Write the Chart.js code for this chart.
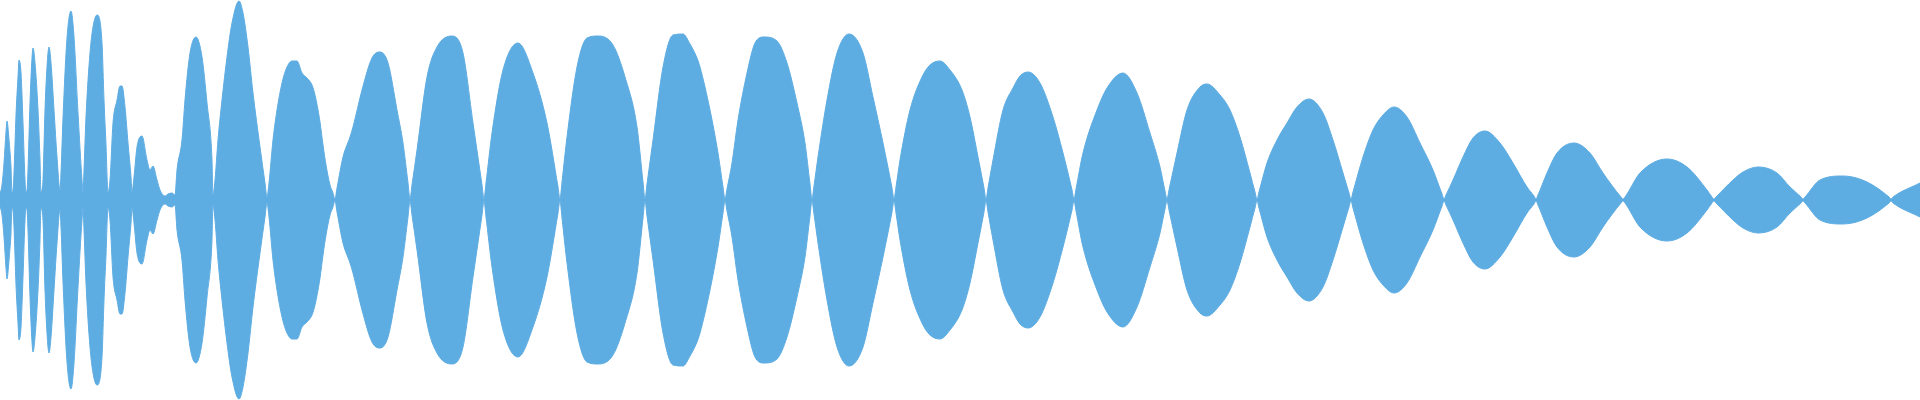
<!DOCTYPE html>
<html>
<head>
<meta charset="utf-8">
<script src="https://cdn.jsdelivr.net/npm/chart.js@4/dist/chart.umd.min.js"></script>
<style>
  html, body { margin: 0; padding: 0; background: #ffffff; }
  #wrap { width: 1920px; height: 400px; position: relative; }
</style>
</head>
<body>
<div id="wrap"><canvas id="c"></canvas></div>
<script>
// Sample positions (time axis) and envelope amplitudes
const samplePositions = [
  0,2,4,6,7,9,11,12,13,14,16,18,19,21,23,25,26,27,28,30,32,33,35,38,40,41,
  42,43,45,47,49,51,54,57,60,61,63,67,71,74,78,82,83,84,86,90,93,97,102,104,106,108,
  110,113,117,120,122,125,128,131,132,134,137,142,147,150,153,157,160,165,168,172,175,
  177,182,185,190,196,202,207,212,213,215,218,222,227,232,239,243,248,253,260,265,267,
  269,273,277,282,287,292,297,302,307,312,315,318,320,323,326,330,333,335,337,
  343,350,353,362,372,380,388,397,403,408,410,412,
  417,427,437,452,463,473,482,484,486,
  492,503,518,533,547,558,560,562,
  567,577,587,598,613,625,637,643,645,647,
  653,663,673,683,690,697,700,710,718,723,725,727,
  732,738,747,755,764,777,787,797,805,810,812,814,
  818,827,837,849,863,873,883,892,894,896,
  900,910,922,930,940,950,962,970,978,984,986,988,
  993,1003,1013,1020,1028,1040,1053,1063,1072,1074,1076,
  1083,1097,1107,1123,1137,1150,1160,1165,1167,1169,
  1177,1187,1200,1207,1220,1230,1240,1250,1255,1257,1259,
  1267,1277,1287,1297,1309,1323,1333,1343,1349,1351,1353,
  1363,1373,1383,1394,1407,1420,1433,1442,1444,1446,
  1453,1463,1473,1485,1500,1513,1527,1534,1536,1538,
  1547,1557,1574,1590,1603,1621,1623,1625,
  1640,1667,1687,1707,1712,1714,1716,
  1733,1743,1758,1777,1790,1801,1803,1805,
  1820,1843,1867,1889,1891,1893,1920
];
const amplitudes = [
  6,15,37,68,79,60,33,8,10,27,85,123,140,127,77,20,8,10,30,97,142,152,137,90,40,8,
  10,20,90,133,153,137,90,43,10,27,82,162,189,163,87,20,8,30,83,147,173,185,157,100,55,8,
  20,77,100,114,114,93,57,23,8,23,53,64,40,30,34,20,10,4,6,7,5,
  30,60,100,147,163,143,97,40,5,20,60,100,143,177,199,187,153,107,53,17,3,
  17,60,90,117,133,139,139,127,122,115,105,90,78,55,35,15,7,1,12,
  43,63,73,110,142,148,137,90,57,17,1,15,
  50,123,153,164,147,77,15,1,17,
  67,130,157,127,77,13,1,18,
  63,133,162,164,155,123,73,18,1,16,
  60,133,165,166,156,142,133,90,47,13,1,11,
  37,80,127,157,163,159,137,97,57,16,1,14,
  43,100,147,166,147,103,57,12,1,13,
  40,90,123,135,139,130,110,83,43,12,1,12,
  40,90,112,124,128,117,83,47,10,1,11,
  47,90,112,127,107,67,33,9,1,10,
  47,90,113,116,105,90,63,27,8,1,8,
  37,60,77,93,101,87,60,27,7,1,8,
  43,70,85,93,83,57,30,6,1,5,
  20,43,62,69,57,37,13,4,1,5,
  27,47,57,47,27,3,1,3,
  27,41,33,10,3,1,3,
  20,28,33,27,13,3,1,3,
  20,24,18,3,1,3,17
];

const fillColor = 'rgb(93,172,226)';
const upper = samplePositions.map((x, i) => ({ x: x, y: amplitudes[i] }));
const lower = samplePositions.map((x, i) => ({ x: x, y: -amplitudes[i] }));

new Chart(document.getElementById('c'), {
  type: 'line',
  data: {
    datasets: [
      { data: upper, borderColor: fillColor, backgroundColor: fillColor, borderWidth: 1, pointRadius: 0, fill: false, cubicInterpolationMode: 'monotone' },
      { data: lower, borderColor: fillColor, backgroundColor: fillColor, borderWidth: 1, pointRadius: 0, fill: '-1', cubicInterpolationMode: 'monotone' }
    ]
  },
  options: {
    responsive: true,
    maintainAspectRatio: false,
    animation: false,
    layout: { padding: 0 },
    plugins: { legend: { display: false }, tooltip: { enabled: false } },
    scales: {
      x: { type: 'linear', min: 0, max: 1920, display: false },
      y: { min: -200, max: 200, display: false }
    }
  }
});
</script>
</body>
</html>
